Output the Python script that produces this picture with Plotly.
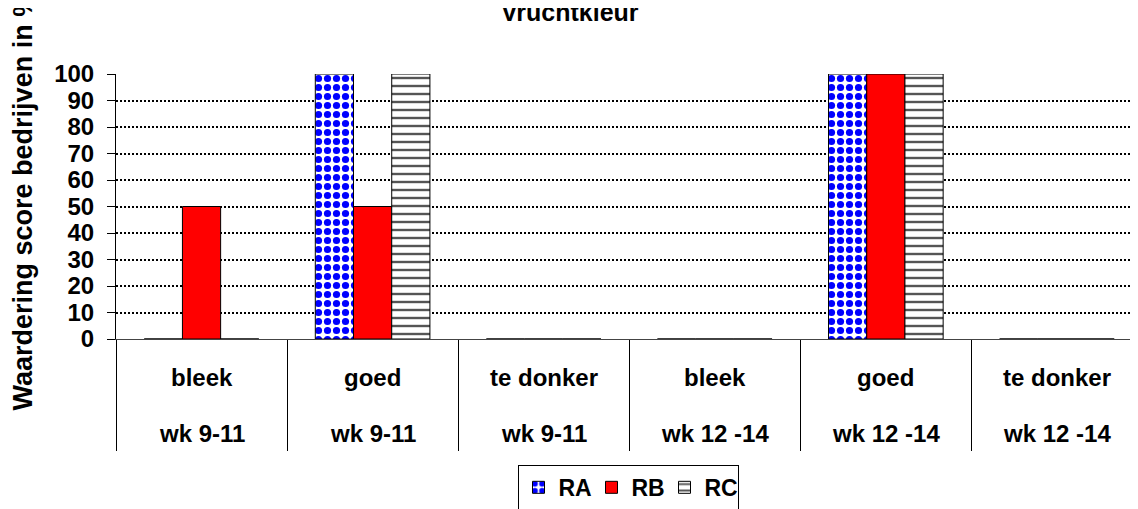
import plotly.graph_objects as go

# Data
kleur = ["bleek", "goed", "te donker", "bleek", "goed", "te donker"]
periode = ["wk 9-11", "wk 9-11", "wk 9-11", "wk 12 -14", "wk 12 -14", "wk 12 -14"]
RA = [0, 100, 0, 0, 100, 0]
RB = [50, 50, 0, 0, 100, 0]
RC = [0, 100, 0, 0, 100, 0]
yticks = [0, 10, 20, 30, 40, 50, 60, 70, 80, 90, 100]

keys = [f"{k} ({p})" for k, p in zip(kleur, periode)]

FONT = "Liberation Sans, Arial, sans-serif"
OUTLINE = dict(color="black", width=1)

fig = go.Figure()
fig.add_trace(go.Bar(
    name="RA", x=keys, y=RA,
    marker=dict(color="white", line=OUTLINE,
                pattern=dict(shape=".", fgcolor="#0000FF", bgcolor="white",
                             size=9, solidity=0.5, fillmode="replace")),
))
fig.add_trace(go.Bar(
    name="RB", x=keys, y=RB,
    marker=dict(color="#FF0000", line=OUTLINE),
))
fig.add_trace(go.Bar(
    name="RC", x=keys, y=RC,
    marker=dict(color="white", line=OUTLINE,
                pattern=dict(shape="-", fgcolor="#555555", bgcolor="white",
                             size=8, solidity=0.3, fillmode="replace")),
))

annotations = []
for k, c, p in zip(keys, kleur, periode):
    annotations.append(dict(x=k, xref="x", y=-0.147, yref="paper", text=c,
                            showarrow=False, xanchor="center", yanchor="middle",
                            font=dict(family=FONT, size=24, weight="bold", color="black")))
    annotations.append(dict(x=k, xref="x", y=-0.358, yref="paper", text=p,
                            showarrow=False, xanchor="center", yanchor="middle",
                            font=dict(family=FONT, size=24, weight="bold", color="black")))

# y-axis title
annotations.append(dict(x=-0.091, xref="paper", y=0.519, yref="paper",
                        text="Waardering score bedrijven in %", textangle=-90,
                        showarrow=False, xanchor="center", yanchor="middle",
                        font=dict(family=FONT, size=27, weight="bold", color="black")))
# chart title
annotations.append(dict(x=(562 - 108) / 1022, xref="paper", y=1.174, yref="paper",
                        text="Vruchtkleur", showarrow=False,
                        xanchor="center", yanchor="bottom",
                        font=dict(family=FONT, size=25, weight="bold", color="black")))

fig.update_layout(
    width=1130, height=501,
    margin=dict(l=108, r=0, t=66, b=170, autoexpand=False),
    paper_bgcolor="white", plot_bgcolor="white",
    barmode="group", bargap=0.33, bargroupgap=0,
    showlegend=True,
    legend=dict(orientation="h", x=(620 - 108) / 1022, xanchor="center", y=-0.475, yanchor="top",
                bgcolor="white", bordercolor="black", borderwidth=1,
                font=dict(family=FONT, size=23, weight="bold", color="black"),
                itemwidth=30, tracegroupgap=0, entrywidth=28, entrywidthmode="pixels"),
    annotations=annotations,
    xaxis=dict(type="category", range=[-0.5, 5.474], showticklabels=False,
               tickson="boundaries", ticks="outside", ticklen=111, tickwidth=1,
               tickcolor="black", showline=True, linecolor="#444444", linewidth=1,
               showgrid=False, zeroline=False, automargin=False),
    yaxis=dict(range=[0, 100], tickmode="array", tickvals=yticks,
               ticktext=[str(v) for v in yticks],
               ticks="outside", ticklen=8, tickwidth=1, tickcolor="black",
               ticklabelstandoff=8,
               tickfont=dict(family=FONT, size=24, weight="bold", color="black"),
               showline=True, linecolor="black", linewidth=1,
               showgrid=True, gridcolor="black", gridwidth=1.5, griddash="2px,2px",
               zeroline=False, automargin=False),
)

fig.write_html("out.html")
